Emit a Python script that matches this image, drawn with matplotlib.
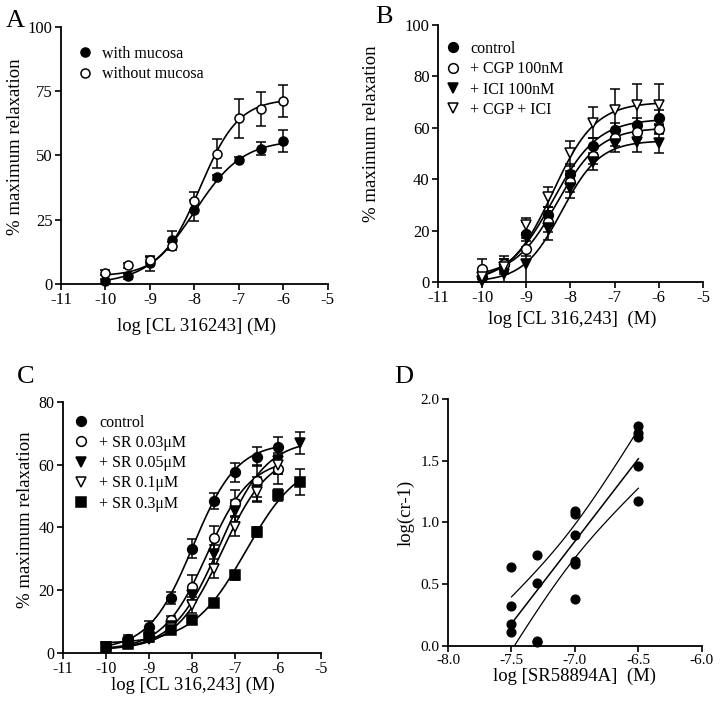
import numpy as np
import matplotlib.pyplot as plt
from matplotlib.lines import Line2D

plt.rcParams['font.family'] = ['Liberation Serif', 'DejaVu Serif']
plt.rcParams['font.size'] = 11
plt.rcParams['axes.unicode_minus'] = False

# ---- panel A
log_a = [-10, -9.5, -9, -8.5, -8, -7.5, -7, -6.5, -6]
with_muc = [1.0, 3.0, 8.0, 17.0, 28.6, 41.4, 48.3, 52.5, 55.4]
with_muc_err = [1.0, 1.0, 3.0, 3.5, 4.0, 1.0, 1.0, 2.5, 4.3]
without_muc = [4.3, 7.2, 9.4, 14.6, 32.3, 50.6, 64.4, 68.0, 71.0]
without_muc_err = [1.0, 1.0, 1.0, 1.5, 3.6, 5.6, 7.5, 6.7, 6.2]
# fitted curves: bottom, top, logEC50, hill slope
fit_a = {'with mucosa': [0.0, 56.0, -8.0, 0.8],
         'without mucosa': [3.0, 72.0, -7.87, 1.0]}

# ---- panel B
log_b = [-10, -9.5, -9, -8.5, -8, -7.5, -7, -6.5, -6]
b_control = [2.0, 7.0, 18.5, 26.0, 42.0, 53.0, 59.0, 61.0, 64.0]
b_control_err = [2.0, 2.0, 5.0, 3.0, 4.0, 3.0, 3.0, 3.0, 3.0]
b_cgp = [5.0, 7.0, 13.0, 23.5, 39.0, 49.0, 56.0, 58.5, 59.5]
b_cgp_err = [4.0, 3.0, 3.0, 4.0, 4.0, 3.0, 3.0, 3.0, 2.0]
b_ici = [0.5, 3.0, 7.0, 21.0, 36.5, 46.5, 53.5, 54.5, 54.0]
b_ici_err = [3.0, 4.0, 10.0, 4.5, 4.0, 3.0, 3.0, 4.0, 4.0]
b_both = [2.0, 6.0, 22.0, 33.0, 50.0, 62.0, 67.0, 69.0, 69.0]
b_both_err = [3.0, 3.0, 3.0, 4.0, 5.0, 6.0, 8.0, 8.0, 8.0]
fit_b = [[0.0, 63.5, -8.4, 0.85],
         [2.0, 60.0, -8.3, 0.9],
         [0.0, 55.0, -8.2, 1.0],
         [0.0, 70.0, -8.4, 0.9]]

# ---- panel C
log_c = [-10, -9.5, -9, -8.5, -8, -7.5, -7, -6.5, -6, -5.5]
c_control = [1.9, 4.6, 8.3, 17.5, 33.3, 48.5, 57.6, 62.5, 65.7]
c_control_err = [0.8, 1.0, 2.0, 2.0, 3.0, 2.5, 3.0, 3.0, 3.0]
c_sr003 = [2.0, 3.5, 5.8, 10.4, 21.0, 36.5, 47.8, 54.8, 58.8]
c_sr003_err = [0.8, 1.0, 1.5, 1.5, 4.0, 4.0, 4.0, 5.0, 5.0]
c_sr005 = [2.0, 3.5, 5.1, 8.5, 18.4, 31.5, 45.3, 52.0, 61.2, 67.0]
c_sr005_err = [0.8, 1.0, 1.0, 1.5, 2.0, 3.0, 3.5, 4.0, 4.0, 3.5]
c_sr01 = [2.0, 3.0, 4.5, 8.0, 15.4, 26.8, 40.3, 51.3, 60.0]
c_sr01_err = [0.8, 1.0, 1.0, 1.5, 2.5, 3.0, 3.0, 3.0, 3.0]
c_sr03 = [2.0, 3.0, 5.0, 7.4, 10.6, 15.8, 24.7, 38.6, 50.4, 54.5]
c_sr03_err = [0.8, 1.0, 1.0, 1.0, 1.0, 1.0, 1.5, 1.5, 2.0, 4.0]
fit_c = [[1.0, 67.0, -7.98, 0.85],
         [1.0, 62.0, -7.65, 0.85],
         [1.0, 68.0, -7.35, 0.8],
         [1.0, 64.0, -7.3, 0.8],
         [3.0, 62.0, -6.75, 0.7]]

# ---- panel D (Schild plot)
log_sr = [-7.5, -7.5, -7.5, -7.5, -7.3, -7.3, -7.3, -7.3,
          -7.0, -7.0, -7.0, -7.0, -7.0, -7.0, -6.5, -6.5, -6.5, -6.5, -6.5]
log_cr1 = [0.64, 0.32, 0.18, 0.11, 0.74, 0.51, 0.04, 0.03,
           1.09, 1.07, 0.90, 0.69, 0.66, 0.38, 1.78, 1.72, 1.69, 1.46, 1.17]


def hill(x, p):
    bottom, top, ec50, slope = p
    return bottom + (top - bottom) / (1 + 10 ** ((ec50 - x) * slope))


def style_axes(ax, fs):
    for s in ['top', 'right']:
        ax.spines[s].set_visible(False)
    for s in ['left', 'bottom']:
        ax.spines[s].set_linewidth(1.3)
    ax.tick_params(direction='out', length=4, width=1.2, labelsize=fs, pad=2)


def series(ax, x, y, err, marker, face, xfit, p, label, ms=7):
    n = len(y)
    ax.errorbar(x[:n], y, yerr=err, fmt='none', ecolor='black', elinewidth=1.1,
                capsize=3.5, capthick=1.1, zorder=2)
    ax.plot(xfit, hill(xfit, p), color='black', lw=1.2, zorder=1)
    ax.plot(x[:n], y, linestyle='none', marker=marker, markersize=ms,
            markerfacecolor=face, markeredgecolor='black', markeredgewidth=1.1,
            zorder=3, clip_on=False)
    return Line2D([], [], linestyle='none', marker=marker, markersize=ms,
                  markerfacecolor=face, markeredgecolor='black',
                  markeredgewidth=1.1, label=label)


def labels(ax, xlab, ylab, xpos, ypos):
    ax.set_xlabel(xlab, fontsize=13.5)
    ax.set_ylabel(ylab, fontsize=13.5)
    ax.xaxis.set_label_coords(*xpos)
    ax.yaxis.set_label_coords(*ypos)


leg_kw = dict(loc='upper left', frameon=False, fontsize=11.5, handlelength=1,
              handletextpad=0.6, labelspacing=0.27, borderpad=0, borderaxespad=0)

fig = plt.figure(figsize=(7.21, 7.06), dpi=100)
axA = fig.add_axes([0.0846, 0.598, 0.370, 0.364])
axB = fig.add_axes([0.6075, 0.6006, 0.3675, 0.364])
axC = fig.add_axes([0.0874, 0.0751, 0.358, 0.3555])
axD = fig.add_axes([0.6214, 0.085, 0.352, 0.350])

xf = np.linspace(-10, -6, 200)
xf2 = np.linspace(-10, -5.5, 200)

# A
h = [series(axA, log_a, with_muc, with_muc_err, 'o', 'black', xf,
            fit_a['with mucosa'], 'with mucosa', 6.5),
     series(axA, log_a, without_muc, without_muc_err, 'o', 'white', xf,
            fit_a['without mucosa'], 'without mucosa', 6.5)]
axA.set_xlim(-11, -5)
axA.set_ylim(0, 100)
axA.set_xticks(range(-11, -4))
axA.set_yticks([0, 25, 50, 75, 100])
labels(axA, 'log [CL 316243] (M)', '% maximum relaxation', (0.51, -0.13), (-0.14, 0.533))
axA.legend(handles=h, bbox_to_anchor=(0.059, 0.926), **leg_kw)
style_axes(axA, 12)

# B
h = [series(axB, log_b, b_control, b_control_err, 'o', 'black', xf, fit_b[0], 'control'),
     series(axB, log_b, b_cgp, b_cgp_err, 'o', 'white', xf, fit_b[1], '+ CGP 100nM'),
     series(axB, log_b, b_ici, b_ici_err, 'v', 'black', xf, fit_b[2], '+ ICI 100nM'),
     series(axB, log_b, b_both, b_both_err, 'v', 'white', xf, fit_b[3], '+ CGP + ICI')]
axB.set_xlim(-11, -5)
axB.set_ylim(0, 100)
axB.set_xticks(range(-11, -4))
axB.set_yticks(range(0, 101, 20))
labels(axB, 'log [CL 316,243]  (M)', '% maximum relaxation', (0.505, -0.11), (-0.219, 0.576))
axB.legend(handles=h, bbox_to_anchor=(0.026, 0.938), **leg_kw)
style_axes(axB, 12)

# C
h = [series(axC, log_c, c_control, c_control_err, 'o', 'black', xf, fit_c[0], 'control'),
     series(axC, log_c, c_sr003, c_sr003_err, 'o', 'white', xf, fit_c[1], '+ SR 0.03\u03bcM'),
     series(axC, log_c, c_sr005, c_sr005_err, 'v', 'black', xf2, fit_c[2], '+ SR 0.05\u03bcM'),
     series(axC, log_c, c_sr01, c_sr01_err, 'v', 'white', xf, fit_c[3], '+ SR 0.1\u03bcM'),
     series(axC, log_c, c_sr03, c_sr03_err, 's', 'black', xf2, fit_c[4], '+ SR 0.3\u03bcM')]
axC.set_xlim(-11, -5)
axC.set_ylim(0, 80)
axC.set_xticks(range(-11, -4))
axC.set_yticks(range(0, 81, 20))
labels(axC, 'log [CL 316,243] (M)', '% maximum relaxation', (0.505, -0.096), (-0.112, 0.53))
axC.legend(handles=h, bbox_to_anchor=(0.04, 0.95), **leg_kw)
style_axes(axC, 11.5)

# D: linear regression with 95% confidence band
xd = np.array(log_sr)
yd = np.array(log_cr1)
slope, icpt = np.polyfit(xd, yd, 1)
n = len(xd)
resid = yd - (slope * xd + icpt)
s = np.sqrt(np.sum(resid ** 2) / (n - 2))
sxx = np.sum((xd - xd.mean()) ** 2)
xl = np.linspace(xd.min(), xd.max(), 100)
yl = slope * xl + icpt
half = 2.11 * s * np.sqrt(1 / n + (xl - xd.mean()) ** 2 / sxx)
axD.plot(xl, yl, color='black', lw=1.1)
axD.plot(xl, yl + half, color='black', lw=0.9)
axD.plot(xl, yl - half, color='black', lw=0.9)
axD.plot(xd, yd, linestyle='none', marker='o', markersize=6.3, color='black',
         clip_on=False, zorder=3)
axD.set_xlim(-8, -6)
axD.set_ylim(0, 2)
axD.set_xticks([-8, -7.5, -7, -6.5, -6])
axD.set_xticklabels(['-8.0', '-7.5', '-7.0', '-6.5', '-6.0'])
axD.set_yticks([0, 0.5, 1.0, 1.5, 2.0])
axD.set_yticklabels(['0.0', '0.5', '1.0', '1.5', '2.0'])
labels(axD, 'log [SR58894A]  (M)', 'log(cr-1)', (0.5, -0.089), (-0.13, 0.54))
style_axes(axD, 11)

for lab, px, py in [('A', 15, 21), ('B', 384, 17), ('C', 26, 377), ('D', 404, 377)]:
    fig.text(px / 721, 1 - py / 706, lab, fontsize=19, ha='center', va='center')

fig.savefig('out.png', dpi=100)
